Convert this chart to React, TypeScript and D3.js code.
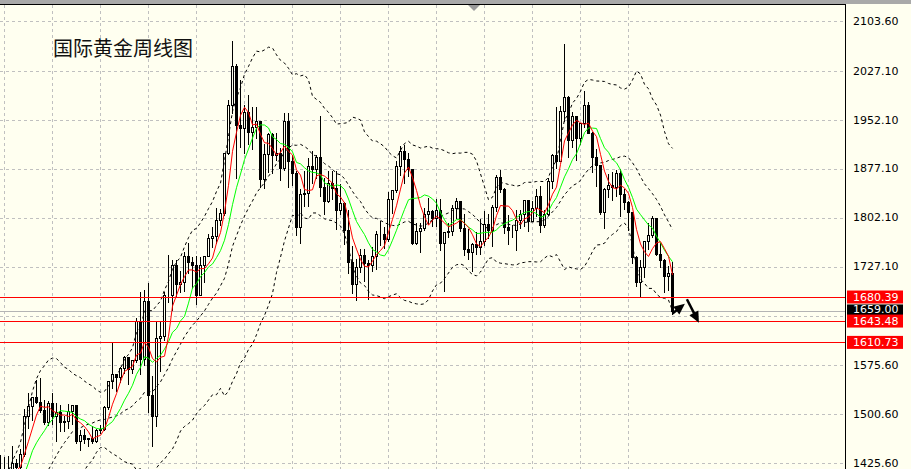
import React from "react";
import * as d3 from "d3";

// Weekly gold (XAUUSD) bars, Feb 2019 .. Sep 2022 (first 20 bars are history for indicators)
const opens = [1318,1314,1322,1328,1294,1298,1302,1312,1292,1291,1290,1276,1286,1280,1285,1277,1284,1305,1341,1341,
1399,1409,1400,1415,1426,1419,1440,1497,1513,1527,1520,1507,1488,1517,1497,1504,1489,1490,1505,1514,1459,1468,1462,1464,1460,1476,1478,1511,
1552,1562,1557,1571,1589,1570,1584,1643,1585,1674,1530,1498,1617,1620,1683,1683,1729,1700,1703,1743,1734,1730,1683,1730,1743,1771,1774,1798,1810,1902,1975,2035,1944,1940,1964,1934,1941,1950,1861,1900,1930,1899,1902,1879,1951,1889,1871,1788,1839,1840,1881,1877,
1895,1849,1828,1856,1847,1814,1824,1784,1734,1700,1727,1745,1732,1729,1744,1777,1777,1769,1831,1844,1881,1905,1892,1877,1764,1782,1787,1808,1812,1802,1814,1763,1780,1781,1817,1828,1787,1754,1750,1761,1757,1767,1793,1783,1818,1865,1846,1788,1783,1783,1798,1808,
1829,1797,1817,1835,1791,1808,1859,1898,1889,1966,1988,1921,1958,1925,1947,1975,1932,1896,1883,1811,1846,1853,1850,1871,1839,1826,1811,1742,1703,1727,1766,1775,1802,1747,1737,1712,1717];
const highs = [1324,1327,1346,1330,1300,1311,1320,1324,1300,1314,1294,1289,1288,1289,1304,1287,1307,1348,1358,1411,
1439,1437,1438,1453,1434,1448,1510,1535,1528,1555,1557,1524,1523,1535,1519,1516,1500,1518,1516,1516,1478,1479,1466,1484,1480,1485,1514,1553,
1611,1563,1575,1592,1590,1585,1649,1689,1692,1704,1560,1645,1645,1690,1747,1739,1738,1722,1751,1765,1744,1745,1744,1745,1779,1789,1818,1817,1902,1984,2075,2040,2015,1976,1992,1973,1973,1952,1917,1933,1933,1933,1911,1965,1965,1900,1876,1848,1875,1896,1906,1900,
1960,1864,1875,1875,1875,1855,1827,1816,1760,1740,1755,1755,1739,1758,1784,1798,1790,1843,1846,1890,1913,1916,1903,1879,1795,1795,1818,1834,1816,1832,1832,1782,1795,1823,1834,1828,1809,1787,1765,1781,1801,1814,1810,1823,1869,1877,1849,1808,1793,1815,1815,1831,
1831,1830,1848,1853,1816,1865,1902,1974,1975,2070,1990,1966,1960,1949,1998,1982,1935,1909,1884,1849,1870,1874,1877,1879,1847,1830,1813,1745,1739,1767,1795,1807,1802,1765,1740,1729,1735];
const lows = [1302,1302,1320,1293,1281,1290,1299,1281,1282,1285,1266,1267,1267,1278,1274,1267,1276,1305,1322,1339,
1382,1381,1385,1401,1412,1400,1437,1480,1491,1517,1504,1485,1484,1485,1459,1474,1475,1480,1486,1456,1445,1456,1451,1456,1458,1471,1476,1508,
1540,1536,1550,1563,1547,1563,1580,1562,1576,1504,1451,1482,1567,1615,1673,1660,1680,1688,1690,1718,1694,1670,1683,1704,1743,1757,1764,1791,1806,1900,1963,1863,1911,1902,1916,1907,1925,1849,1848,1873,1871,1890,1860,1876,1850,1853,1775,1764,1820,1820,1855,1863,
1835,1808,1826,1831,1785,1808,1761,1717,1687,1676,1719,1705,1677,1721,1723,1760,1756,1767,1809,1842,1868,1855,1866,1761,1761,1750,1783,1792,1789,1790,1753,1690,1772,1775,1802,1782,1745,1738,1721,1746,1746,1760,1771,1758,1812,1842,1778,1762,1772,1753,1787,1790,
1782,1797,1805,1780,1788,1806,1848,1878,1889,1950,1895,1910,1890,1916,1941,1934,1872,1851,1808,1787,1834,1829,1836,1805,1816,1784,1733,1697,1681,1711,1754,1773,1745,1727,1688,1691,1654];
const closes = [1314,1322,1328,1294,1298,1302,1312,1292,1291,1290,1276,1286,1280,1285,1277,1284,1305,1341,1341,1399,
1409,1400,1415,1426,1419,1440,1497,1513,1527,1520,1507,1488,1517,1497,1504,1489,1490,1505,1514,1459,1468,1462,1464,1460,1476,1478,1511,1552,
1562,1557,1571,1589,1570,1584,1643,1585,1674,1530,1498,1617,1620,1683,1683,1729,1700,1703,1743,1734,1730,1683,1730,1743,1771,1774,1798,1810,1902,1975,2035,1944,1940,1964,1934,1941,1950,1861,1900,1930,1899,1902,1879,1951,1889,1871,1788,1839,1840,1881,1877,1895,
1849,1828,1856,1847,1814,1824,1784,1734,1700,1727,1745,1732,1729,1744,1777,1777,1769,1831,1844,1881,1905,1892,1877,1764,1782,1787,1808,1812,1802,1814,1763,1780,1781,1817,1828,1787,1754,1750,1761,1757,1767,1793,1783,1818,1865,1846,1788,1783,1783,1798,1808,1829,
1797,1817,1835,1791,1808,1859,1898,1889,1966,1988,1921,1958,1925,1947,1975,1932,1896,1883,1811,1846,1853,1850,1871,1839,1826,1811,1742,1703,1727,1766,1775,1802,1747,1737,1712,1717,1659];

const tickValues = [2103.6, 2027.1, 1952.1, 1877.1, 1802.1, 1727.1, 1575.6, 1500.6, 1425.6];
const tickLabels = ["2103.60", "2027.10", "1952.10", "1877.10", "1802.10", "1727.10", "1575.60", "1500.60", "1425.60"];
const hiddenGridValues = [1651.1];

const levelValues = [1680.39, 1643.48, 1610.73];
const levelLabels = ["1680.39", "1643.48", "1610.73"];
const bidValue = 1659.0;
const bidLabel = "1659.00";

const titleText = "国际黄金周线图";

// arrows: [bars after last bar, price]
const arrowStarts: [number, number][] = [[0, 1655], [3.6, 1677]];
const arrowEnds: [number, number][] = [[3.1, 1670], [6.6, 1641]];

const W = 911, H = 469;
const PLOT_R = 845, PLOT_T = 5;
const BG = "#FFFFF0";

function sma(vals: number[], p: number): (number | null)[] {
  return vals.map((_, i) => (i < p - 1 ? null : d3.mean(vals.slice(i - p + 1, i + 1))!));
}
function bands(vals: number[], p: number, k: number) {
  const up: (number | null)[] = [], lo: (number | null)[] = [], mid: (number | null)[] = [];
  vals.forEach((_, i) => {
    if (i < p - 1) { up.push(null); lo.push(null); mid.push(null); return; }
    const s = vals.slice(i - p + 1, i + 1);
    const m = d3.mean(s)!;
    const sd = Math.sqrt(d3.mean(s.map((v) => (v - m) * (v - m)))!);
    mid.push(m); up.push(m + k * sd); lo.push(m - k * sd);
  });
  return { up, mid, lo };
}

export default function App() {
  const N = closes.length;
  const xScale = d3.scaleLinear().domain([N - 169, N - 1]).range([0, 672]);
  const yScale = d3.scaleLinear().domain([1425.6, 1952.1]).range([463, 120]);
  const px = (i: number) => Math.round(xScale(i)) + 0.5;
  const py = (v: number) => Math.round(yScale(v)) + 0.5;

  const ma5 = sma(closes, 5);
  const ma10 = sma(closes, 10);
  const bb = bands(closes, 20, 2);

  const lineGen = d3
    .line<number | null>()
    .defined((d) => d != null)
    .x((_, i) => xScale(i) + 0.5)
    .y((d) => yScale(d as number));

  const gridYs = [...tickValues, ...hiddenGridValues];
  const gridXs = d3.range(N).filter((i) => i >= N - 169 && (i - (N - 168)) % 12 === 0);

  const arrows = arrowStarts.map((s, k) => {
    const e = arrowEnds[k];
    const x1 = xScale(N - 1 + s[0]) + 0.5, y1 = yScale(s[1]);
    const x2 = xScale(N - 1 + e[0]) + 0.5, y2 = yScale(e[1]);
    const ang = Math.atan2(y2 - y1, x2 - x1);
    const L = 11, Wd = 5;
    const bx = x2 - L * Math.cos(ang), by = y2 - L * Math.sin(ang);
    const head = [
      [x2, y2],
      [bx + Wd * Math.sin(ang), by - Wd * Math.cos(ang)],
      [bx - Wd * Math.sin(ang), by + Wd * Math.cos(ang)],
    ];
    return { x1, y1, bx: bx + 2 * Math.cos(ang), by: by + 2 * Math.sin(ang), head };
  });

  return (
    <div style={{ position: "absolute", left: 0, top: 0, width: W, height: H }}>
      <svg width={W} height={H} style={{ display: "block" }}>
        <defs>
          <clipPath id="plotClip">
            <rect x={0} y={PLOT_T} width={PLOT_R} height={H - PLOT_T} />
          </clipPath>
        </defs>
        <rect x={0} y={0} width={W} height={H} fill={BG} />
        <rect x={0} y={0} width={W} height={4} fill="#A9A9A9" />

        {/* grid */}
        <g stroke="#C0C0C0" strokeWidth={1} strokeDasharray="3,3" shapeRendering="crispEdges">
          {gridYs.map((v, k) => (
            <line key={"gy" + k} x1={0} x2={PLOT_R} y1={py(v)} y2={py(v)} />
          ))}
          {gridXs.map((i) => (
            <line key={"gx" + i} x1={px(i)} x2={px(i)} y1={PLOT_T} y2={H} />
          ))}
        </g>

        <g clipPath="url(#plotClip)">
          {/* bid line */}
          <line x1={0} x2={PLOT_R} y1={py(bidValue)} y2={py(bidValue)} stroke="#B4B4B4" shapeRendering="crispEdges" />

          {/* candles */}
          <g shapeRendering="crispEdges">
            {closes.map((c, i) => {
              if (i < N - 170) return null;
              const x = px(i);
              const o = opens[i];
              const top = Math.min(py(o), py(c));
              const bot = Math.max(py(o), py(c));
              const bull = c >= o;
              return (
                <g key={"c" + i}>
                  <line x1={x} x2={x} y1={py(highs[i])} y2={py(lows[i])} stroke="#000" />
                  <rect x={x - 1} y={top} width={2} height={Math.max(bot - top, 0)} fill={bull ? BG : "#000"} stroke="#000" />
                </g>
              );
            })}
          </g>

          {/* Bollinger bands */}
          <g fill="none" stroke="#000" strokeWidth={1} strokeDasharray="3,3">
            <path d={lineGen(bb.up) || ""} />
            <path d={lineGen(bb.mid) || ""} />
            <path d={lineGen(bb.lo) || ""} />
          </g>
          <path d={lineGen(ma10) || ""} fill="none" stroke="#00FF00" strokeWidth={1} />
          <path d={lineGen(ma5) || ""} fill="none" stroke="#FF0000" strokeWidth={1} />

          {/* horizontal levels */}
          {levelValues.map((v, k) => (
            <line key={"lv" + k} x1={0} x2={PLOT_R} y1={py(v)} y2={py(v)} stroke="#FF0000" shapeRendering="crispEdges" />
          ))}

          {/* arrows */}
          {arrows.map((a, k) => (
            <g key={"ar" + k}>
              <line x1={a.x1} y1={a.y1} x2={a.bx} y2={a.by} stroke="#000" strokeWidth={2.5} />
              <polygon points={a.head.map((p) => p.join(",")).join(" ")} fill="#000" />
            </g>
          ))}
        </g>

        {/* frame */}
        <line x1={0} x2={PLOT_R} y1={4.5} y2={4.5} stroke="#000" shapeRendering="crispEdges" />
        <line x1={PLOT_R + 0.5} x2={PLOT_R + 0.5} y1={4} y2={H} stroke="#000" shapeRendering="crispEdges" />
        <polygon points="468,5 480,5 474,11" fill="#9A9A9A" />

        {/* title */}
        <text x={53} y={56} fontFamily="'Noto Sans CJK SC', sans-serif" fontSize={20} fill="#111">
          {titleText}
        </text>

        {/* axis labels */}
        <g fontFamily="'DejaVu Sans', sans-serif" fontSize={11}>
          {tickValues.map((v, k) => (
            <text key={"t" + k} x={853} y={yScale(v)} dominantBaseline="central" fill="#000">
              {tickLabels[k]}
            </text>
          ))}
          <rect x={847} y={yScale(bidValue) - 6.5} width={56} height={13} fill="#000" />
          <text x={853} y={yScale(bidValue) - 1} dominantBaseline="central" fill="#fff">{bidLabel}</text>
          {levelValues.map((v, k) => (
            <g key={"lb" + k}>
              <rect x={847} y={yScale(v) - 6.5} width={56} height={13} fill="#FF0000" />
              <text x={853} y={yScale(v)} dominantBaseline="central" fill="#fff">{levelLabels[k]}</text>
            </g>
          ))}
        </g>
      </svg>
    </div>
  );
}
